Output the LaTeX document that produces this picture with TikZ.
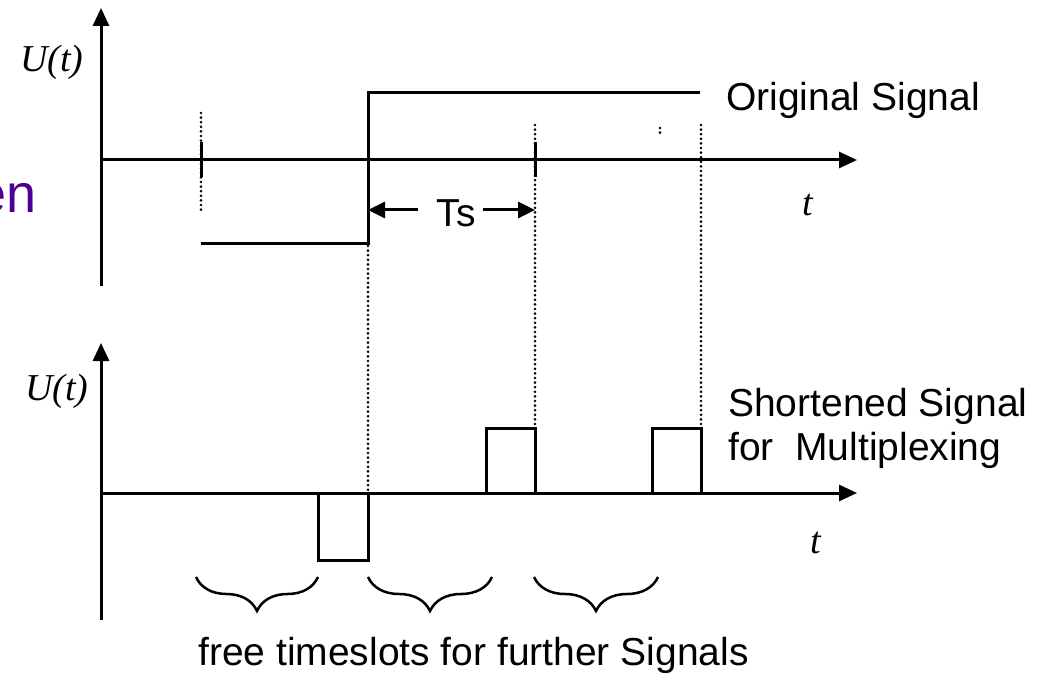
\documentclass[tikz,border=0pt]{standalone}
\usepackage{fontspec}
\setmainfont{Liberation Sans}
\newfontfamily\timesfont{Liberation Serif}
\usetikzlibrary{arrows.meta,decorations.pathreplacing}
\definecolor{enpurple}{RGB}{75,0,150}
\begin{document}
\begin{tikzpicture}[x=1pt,y=-1pt,
 axis/.style={line width=3pt,-{Triangle[length=18pt,width=16pt]}},
 sig/.style={line width=3pt},
 tsarrow/.style={line width=3pt,-{Triangle[length=17pt,width=16pt]}},
 dots/.style={line width=2.9pt,line cap=round,dash pattern=on 0pt off 4.6pt},
 lab/.style={font=\fontsize{39}{44}\selectfont, inner sep=0pt},
 var/.style={font=\timesfont\itshape\fontsize{38}{40}\selectfont, inner sep=0pt},
 brc/.style={line width=2.5pt, decorate, decoration={brace,amplitude=34pt}}
]
\useasboundingbox (0,0) rectangle (1048,676);
% top diagram
\draw[axis] (101,286) -- (101,8);
\draw[axis] (101,160) -- (857,160);
\draw[sig] (201,142) -- (201,177);
\draw[sig] (535,142) -- (535,177);
\draw[dots] (201,113) -- (201,212);
\draw[sig] (201,243) -- (368,243) -- (368,93) -- (700,93);
\draw[dots] (368,246) -- (368,490);
\draw[dots] (535,125) -- (535,426);
\draw[dots] (701,125) -- (701,426);
\draw[dots] (660,128) -- (660,133);
\coordinate (TsL) at (368,210);
\coordinate (TsR) at (535,210);
\coordinate (tsa) at (418,210);
\coordinate (tsb) at (483,210);
\node[lab, anchor=base] (ts) at (456,226) {Ts};
\draw[tsarrow] (tsa) -- (TsL);
\draw[tsarrow] (tsb) -- (TsR);
\node[var, anchor=base west] (Ut1) at (20,72) {U(t)};
\node[var, anchor=base west] (t1) at (802,216) {t};
\node[lab, anchor=base west] (orig) at (726,111) {Original Signal};
\node[anchor=base east, inner sep=0pt, text=enpurple, font=\fontsize{54}{54}\selectfont] (en) at (37,213) {en};
% bottom diagram
\draw[axis] (101,620) -- (101,343);
\draw[axis] (101,493) -- (857,493);
\draw[sig] (318,493) -- (318,560) -- (368,560) -- (368,493);
\draw[sig] (486,493) -- (486,428) -- (535,428) -- (535,493);
\draw[sig] (652,493) -- (652,428) -- (701,428) -- (701,493);
\node[var, anchor=base west] (Ut2) at (25,400) {U(t)};
\node[var, anchor=base west] (t2) at (810,553) {t};
\node[lab, anchor=base west] (short1) at (728,416) {Shortened Signal};
\node[lab, anchor=base west] (short2) at (728,460) {for\ \ Multiplexing};
\draw[brc] (318,577) -- (196,577);
\draw[brc] (492,577) -- (368,577);
\draw[brc] (658,577) -- (534,577);
\node[lab, anchor=base west] (free) at (198,665) {free timeslots for further Signals};
\end{tikzpicture}
\end{document}
